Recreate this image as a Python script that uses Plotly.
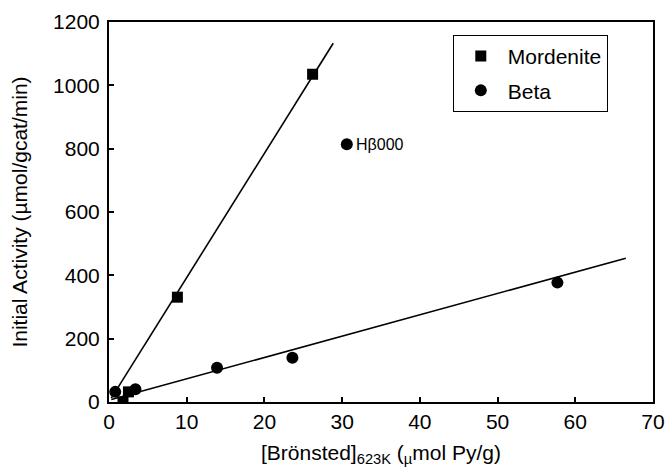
import plotly.graph_objects as go

# Data
mord_x = [1.8, 2.5, 8.8, 26.2]
mord_y = [0, 32, 331, 1035]
beta_x = [0.8, 3.4, 13.9, 23.6, 30.6, 57.7]
beta_y = [32, 40, 108, 140, 814, 377]
mord_fit_x = [0.3, 28.85]
mord_fit_y = [12, 1133]
beta_fit_x = [0.3, 66.5]
beta_fit_y = [8, 454]
label_point = (30.6, 814)
label_text = "Hβ000"
x_ticks = [0, 10, 20, 30, 40, 50, 60, 70]
y_ticks = [0, 200, 400, 600, 800, 1000, 1200]

FONT = "Liberation Sans, Arial, sans-serif"

fig = go.Figure()
fig.add_trace(go.Scatter(x=mord_fit_x, y=mord_fit_y, mode="lines",
                         line=dict(color="black", width=1.6), showlegend=False,
                         hoverinfo="skip"))
fig.add_trace(go.Scatter(x=beta_fit_x, y=beta_fit_y, mode="lines",
                         line=dict(color="black", width=1.6), showlegend=False,
                         hoverinfo="skip"))
fig.add_trace(go.Scatter(x=mord_x, y=mord_y, mode="markers", name="Mordenite",
                         legendgroup="m",
                         marker=dict(symbol="square", size=11, color="black")))
fig.add_trace(go.Scatter(x=beta_x, y=beta_y, mode="markers", name="Beta",
                         legendgroup="b",
                         marker=dict(symbol="circle", size=12, color="black")))

fig.add_annotation(x=label_point[0], y=label_point[1], text=label_text,
                   showarrow=False, xanchor="left", yanchor="middle", xshift=7,
                   font=dict(family=FONT, size=16, color="black"))

axis_common = dict(showgrid=False, zeroline=False, showline=True, linecolor="black",
                   linewidth=2, mirror=True, ticks="inside", ticklen=5, tickwidth=1.5,
                   tickcolor="black", automargin=False,
                   tickfont=dict(family=FONT, size=21, color="black"))

fig.update_xaxes(range=[0, 70], tickvals=x_ticks,
                 title=dict(text="[Brönsted]<sub>623K</sub> (<sub>µ</sub>mol Py/g)",
                            font=dict(family=FONT, size=21, color="black"), standoff=13),
                 **axis_common)
fig.update_yaxes(range=[0, 1200], tickvals=y_ticks, ticklabelstandoff=3,
                 title=dict(text="Initial Activity (µmol/gcat/min)",
                            font=dict(family=FONT, size=21, color="black"), standoff=20),
                 **axis_common)

fig.update_layout(
    width=665, height=471,
    margin=dict(l=109, r=12, t=22, b=69),
    paper_bgcolor="white", plot_bgcolor="white",
    font=dict(family=FONT, color="black"),
    legend=dict(x=0.632, y=0.966, xanchor="left", yanchor="top",
                bordercolor="black", borderwidth=1, bgcolor="white",
                font=dict(family=FONT, size=21, color="black"),
                tracegroupgap=4, itemwidth=44),
    showlegend=True,
)

fig.write_html("out.html")
